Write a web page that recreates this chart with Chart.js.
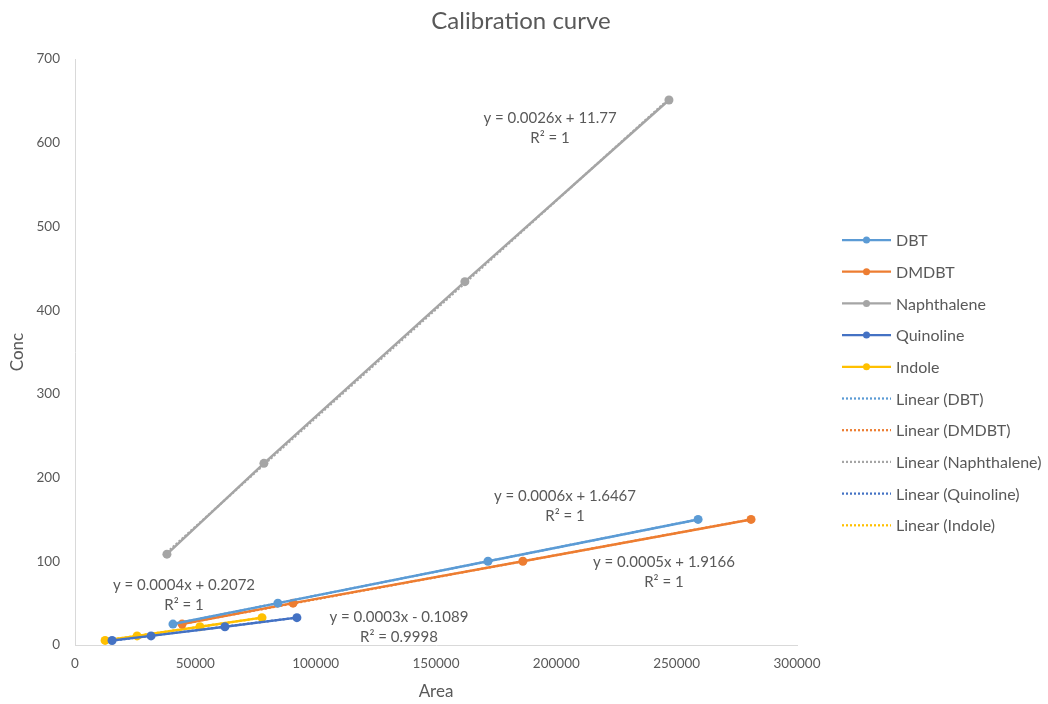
<!DOCTYPE html>
<html>
<head>
<meta charset="utf-8">
<script src="https://cdn.jsdelivr.net/npm/chart.js@4.4.0/dist/chart.umd.min.js"></script>
<style>
  html, body { margin: 0; padding: 0; background: #fff; }
</style>
</head>
<body>
<canvas id="calChart" width="1048" height="704"></canvas>
<script>
// series (Area on x, Conc on y)
const seriesNames = ['DBT', 'DMDBT', 'Naphthalene', 'Quinoline', 'Indole'];
const seriesColors = ['#5B9BD5', '#ED7D31', '#A5A5A5', '#4472C4', '#FFC000'];

const dbtArea = [40700, 84300, 171600, 258900];
const dbtConc = [25, 50, 100, 150];

const dmdbtArea = [44500, 90600, 186100, 280900];
const dmdbtConc = [25, 50, 100, 150];

const naphArea = [38200, 78500, 162000, 246800];
const naphConc = [108.5, 217, 434, 651];

const quinArea = [15400, 31600, 62300, 92200];
const quinConc = [5.4, 10.9, 21.8, 32.7];

const indoleArea = [12500, 25800, 51900, 77700];
const indoleConc = [5.5, 10.9, 21.8, 32.7];

const xTicks = [0, 50000, 100000, 150000, 200000, 250000, 300000];
const yTicks = [0, 100, 200, 300, 400, 500, 600, 700];

// trendline labels, in the same order as the series
const eqLines = [
  ['y = 0.0006x + 1.6467', 'R² = 1'],
  ['y = 0.0005x + 1.9166', 'R² = 1'],
  ['y = 0.0026x + 11.77', 'R² = 1'],
  ['y = 0.0003x - 0.1089', 'R² = 0.9998'],
  ['y = 0.0004x + 0.2072', 'R² = 1']
];
const eqAtX = [203600, 244700, 197400, 134600, 45300];
const eqAtY = [178, 99, 629.6, 33.5, 71.7];

const allArea = [dbtArea, dmdbtArea, naphArea, quinArea, indoleArea];
const allConc = [dbtConc, dmdbtConc, naphConc, quinConc, indoleConc];

const FONT = 'Lato, "Open Sans", sans-serif';
const TXT = '#595959';

function pts(xs, ys) {
  return xs.map((x, i) => ({ x: x, y: ys[i] }));
}

// least squares fit, drawn from min to max x like Excel does
function fitLine(xs, ys) {
  const n = xs.length;
  const mx = xs.reduce((a, b) => a + b, 0) / n;
  const my = ys.reduce((a, b) => a + b, 0) / n;
  let sxy = 0, sxx = 0;
  xs.forEach((x, i) => { sxy += (x - mx) * (ys[i] - my); sxx += (x - mx) * (x - mx); });
  const m = sxy / sxx;
  const b = my - m * mx;
  const lo = Math.min(...xs), hi = Math.max(...xs);
  return [{ x: lo, y: m * lo + b }, { x: hi, y: m * hi + b }];
}

const datasets = [];
seriesNames.forEach((name, i) => {
  datasets.push({
    label: name,
    data: pts(allArea[i], allConc[i]),
    borderColor: seriesColors[i],
    backgroundColor: seriesColors[i],
    borderWidth: 2.5,
    pointRadius: 4.5,
    pointHoverRadius: 4.5,
    pointBorderWidth: 0,
    showLine: true,
    order: 1
  });
});
seriesNames.forEach((name, i) => {
  datasets.push({
    label: 'Linear (' + name + ')',
    data: fitLine(allArea[i], allConc[i]),
    borderColor: seriesColors[i],
    borderWidth: 2.25,
    borderDash: [2, 2],
    pointRadius: 0,
    showLine: true,
    order: 2
  });
});

const excelExtras = {
  id: 'excelExtras',
  afterDraw(chart) {
    const ctx = chart.ctx;
    const xs = chart.scales.x, ys = chart.scales.y;
    ctx.save();
    ctx.fillStyle = TXT;
    ctx.textBaseline = 'middle';

    // title, centred on the whole picture like Excel does
    ctx.textAlign = 'center';
    ctx.font = '24px ' + FONT;
    ctx.fillText('Calibration curve', 521, 21);

    ctx.font = '15px ' + FONT;
    eqLines.forEach((lines, i) => {
      const px = xs.getPixelForValue(eqAtX[i]);
      const py = ys.getPixelForValue(eqAtY[i]);
      lines.forEach((t, k) => ctx.fillText(t, px, py + k * 20));
    });

    // legend on the right
    const lx = 842, lw = 49, top = 240, step = 31.7;
    ctx.textAlign = 'left';
    ctx.font = '16px ' + FONT;
    chart.data.datasets.forEach((ds, i) => {
      const y = top + i * step;
      ctx.strokeStyle = ds.borderColor;
      ctx.lineWidth = 2.25;
      ctx.setLineDash(i < seriesNames.length ? [] : [2, 2]);
      ctx.beginPath();
      ctx.moveTo(lx, y);
      ctx.lineTo(lx + lw, y);
      ctx.stroke();
      ctx.setLineDash([]);
      if (i < seriesNames.length) {
        ctx.fillStyle = ds.borderColor;
        ctx.beginPath();
        ctx.arc(lx + lw / 2, y, 3.5, 0, Math.PI * 2);
        ctx.fill();
      }
      ctx.fillStyle = TXT;
      ctx.fillText(ds.label, lx + lw + 5, y + 1);
    });
    ctx.restore();
  }
};

new Chart(document.getElementById('calChart'), {
  type: 'scatter',
  data: { datasets: datasets },
  options: {
    responsive: false,
    animation: false,
    events: [],
    layout: { padding: { left: 0, right: 251, top: 59, bottom: 0 } },
    plugins: {
      legend: { display: false },
      tooltip: { enabled: false },
      title: { display: false }
    },
    scales: {
      x: {
        type: 'linear',
        min: 0,
        max: 300000,
        afterBuildTicks: (s) => { s.ticks = xTicks.map(v => ({ value: v })); },
        afterFit: (s) => { s.height = 59; },
        grid: { display: false, drawTicks: false },
        border: { color: '#D9D9D9', width: 1 },
        ticks: { color: TXT, padding: 11, maxRotation: 0, font: { family: FONT, size: 13.5 }, callback: v => String(v) },
        title: { display: true, text: 'Area', color: TXT, font: { family: FONT, size: 17 }, padding: { top: 0, bottom: 2 } }
      },
      y: {
        type: 'linear',
        min: 0,
        max: 700,
        afterBuildTicks: (s) => { s.ticks = yTicks.map(v => ({ value: v })); },
        afterFit: (s) => { s.width = 75; },
        grid: { display: false, drawTicks: false },
        border: { color: '#D9D9D9', width: 1 },
        ticks: { color: TXT, padding: 15, font: { family: FONT, size: 13.5 }, callback: v => String(v) },
        title: { display: true, text: 'Conc', color: TXT, font: { family: FONT, size: 17 }, padding: { top: 7, bottom: 0 } }
      }
    }
  },
  plugins: [excelExtras]
});
</script>
</body>
</html>
